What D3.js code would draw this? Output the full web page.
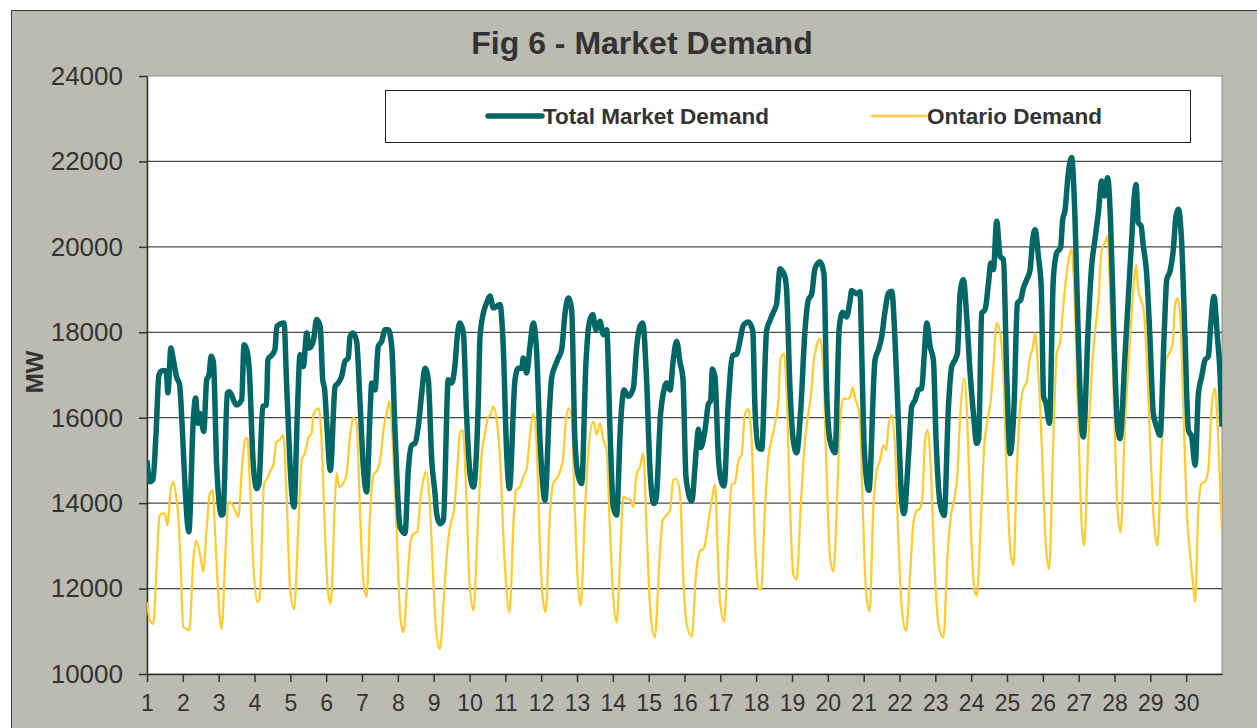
<!DOCTYPE html>
<html>
<head>
<meta charset="utf-8">
<script src="https://cdn.jsdelivr.net/npm/d3@7"></script>
<style>
  body { margin: 0; background: #fff; }
  svg { display: block; font-family: "Liberation Sans", Arial, sans-serif; }
  .axis text { fill: #333; }
  .axis path, .axis line { stroke: #333; }
</style>
</head>
<body>
<div id="chart"></div>
<script>
// hourly demand (MW), [hour of month, MW]
var totalDemand = [
  [0,15000],[2,14500],[4,14550],[6,15600],[8,17000],[10,17100],[12,17100],[13,17050],[14,16580],[16,17630],[17.6,17360],[20,16930],[21.7,16800],[24,15480],
  [25.5,14380],[28,13330],[31,15950],[32.6,16460],[34,15870],[35.5,16100],[38,15680],[40,16890],[41.5,17000],[43,17440],[44.5,17300],[46.7,14850],[50,13720],
  [51,13750],[53.8,16575],[55,16610],[60,16300],[63.4,16420],[65,17710],[66.8,17590],[68.5,17120],[71,15010],[73.5,14340],[75,14450],
  [77.5,16260],[80,16300],[81,17360],[84,17480],[85.7,17600],[87,18140],[91.8,18220],[93.5,16800],[97,14230],[98.5,13910],
  [100.7,16100],[102.5,17475],[104.7,17200],[107,17985],[108.7,17630],[111.4,17790],[113.6,18300],[116,18140],[117.7,16890],[119,16650],[120.5,15800],[122.8,14770],
  [126,16730],[128,16810],[130.4,16970],[132.6,17320],[134.8,17400],[136,17900],[138,17985],[140.4,17790],[142.7,16340],[144.9,14850],[147.1,14265],
  [149.4,16100],[150.5,16810],[152.7,16650],[154.9,17670],[157.2,17790],[159.4,18060],[161.6,18060],[163.9,17670],[166.1,15710],[169.5,13440],[172.8,13290],
  [175,14775],[177.3,15360],[179.5,15400],[181.7,15790],[184,16575],[186.2,17160],[188.4,16890],[190.7,15010],[192.9,14225],[194,13750],[196.2,13520],[198.5,13600],
  [201.8,16890],[204,16810],[206.3,17240],[207.8,17900],[209.6,18220],[211.9,17985],[214,16100],[216.3,14700],[218.6,14380],
  [222,16500],[223,17870],[225.3,18450],[227.5,18690],[229.7,18850],[232,18570],[236.4,18650],[238.6,17670],[240.9,15165],[242.7,14340],
  [246.5,16890],[248.7,17160],[251,17160],[252,17400],[254.3,17045],[256.5,17670],[258.7,18220],[261,17520],[263.2,15480],[265,14460],[266.5,14070],
  [269.4,16100],[271,16930],[273.2,17200],[275.5,17400],[277.7,17590],[280,18450],[282.2,18800],[284.4,18530],[286.6,15480],[288.9,14620],[291.1,14460],
  [294,17280],[296.2,18220],[298.5,18415],[300.7,18060],[303.4,18260],[305.6,17945],[307.9,18060],[310.1,15710],[312.3,13910],[314.5,13720],
  [317.2,15870],[319.5,16650],[322.4,16500],[325.7,16690],[328,17670],[330.2,18140],[332,18220],[334.6,16890],[336.9,14775],[339.5,13990],[341,14100],
  [344,16100],[345.8,16575],[348,16810],[350.3,16650],[352.5,17360],[354.7,17790],[357,17300],[359,16900],[361,14600],[364.8,14050],
  [368,15300],[369.3,15730],[370.8,15300],[373.7,15700],[376,16320],[377.5,16400],[378.7,17140],[380.4,16950],[382.7,15070],[384.9,14480],[386.5,14400],
  [389.4,16400],[392.3,17455],[395,17490],[397.2,17810],[399.4,18160],[402.8,18240],[405.7,18040],[407.2,16240],[409.5,15300],[411.7,15260],
  [415,18040],[417.3,18280],[419.5,18470],[421.7,18670],[424,19490],[425.1,19450],[427.3,19300],[428.4,18980],[430.7,16630],[432.9,15460],[435.1,15180],
  [437.8,16160],[440.7,18040],[442.9,18750],[445.2,18900],[447.4,19490],[450.8,19650],[453.4,19370],[455.2,16630],[457.5,15460],[460.8,15180],
  [463.7,18120],[466,18470],[468.6,18360],[470.9,18750],[472,18980],[475.3,18900],[477.6,18950],[478.7,17500],[480.5,15200],[483.5,14300],
  [487.6,17350],[489.9,17590],[492.1,17900],[494.3,18490],[496.6,18920],[498.8,18960],[501,17820],[503.3,15860],[505.5,14065],[507,13750],
  [510,15080],[512.2,16260],[514.4,16410],[516.7,16650],[518.9,16690],[520.5,17430],[522.3,18215],[524.5,17670],[526.7,17350],[528.5,15470],[531.2,13990],[533.9,13710],
  [536.8,16260],[539,17200],[541.2,17350],[542.8,17510],[544.6,18920],[546.8,19230],[549,18370],[551.3,17040],[553.5,16100],[555.7,15400],[557,15500],
  [559.1,18450],[561.3,18530],[563.6,19150],[565.1,19620],[566.9,19470],[569.1,20600],[571.4,19780],[573.6,19700],[575.8,17040],[578.1,15160],
  [580.7,16260],[583,18685],[585.2,18760],[587,19040],[589.2,19230],[591.5,19470],[593.2,20170],[594.8,20400],[597,19780],[599,19000],[600.5,16500],[602.1,16340],[604.4,15870],
  [607,19230],[609.3,19860],[611.9,19980],[613.3,20640],[614.8,20840],[617.1,21740],[619.3,22090],[621.5,20720],[623.8,17820],[626,15790],[627.1,15550],
  [630.5,18215],[632.7,19550],[634.9,20170],[637.2,20800],[639.4,21540],[641.2,21190],[643.4,21620],[645.4,20560],[647.7,17820],[649.9,15870],[651.7,15510],
  [655,17430],[657.3,18840],[659.5,20170],[661.1,21110],[662.4,21460],[664,20560],[665.8,20490],[667.3,20020],[669.5,19390],[671.8,17820],[674,16100],[676.2,15790],[678.5,15590],
  [681.2,17900],[683,19230],[685.2,19430],[687.4,19940],[689.2,20720],[690.8,20880],[693,20090],[695.2,17900],[697.5,15710],[699.7,15550],[702,14890],
  [704.2,16570],[706.4,16960],[708.6,17350],[710.8,17430],[712.4,18140],[714.6,18840],[716.9,17900],[718.7,17040],[720,15790]
];

var ontarioDemand = [
  [0,11680],[2,11250],[4.2,11170],[6.5,12580],[8.3,13680],[10.5,13760],[12,13760],[13.6,13480],[15.9,14300],[17.6,14500],[19.4,14190],[21,13680],[22.5,12580],[24.3,11100],[26.6,11055],[28.4,11020],
  [31,12660],[32.8,13130],[35,12900],[36.6,12580],[37.7,12390],[40,13440],[42.2,14230],[44,14300],[45.5,13370],[47.8,11800],[50,11055],
  [52.2,12580],[54.5,14030],[56.7,13990],[58.9,13835],[61.2,13680],[63.4,14700],[65.6,15480],[67.2,15520],[69,14380],[71.2,12580],[73.9,11680],[75.5,11800],
  [78.4,14460],[80.6,14580],[82.8,14775],[84.6,14890],[86.8,15440],[89,15480],[91.3,15600],[93.5,14150],[95.8,12030],[98.5,11520],
  [101.4,13440],[103.6,15010],[105.8,15170],[108,15520],[110.3,15640],[111.4,16070],[114.8,16220],[116,16000],[117.5,15000],[119.5,13000],[121,12000],[123,11640],
  [126,14150],[127,14700],[128.8,14380],[131.5,14460],[133.7,14700],[136,15560],[138.2,15990],[140.4,15870],[142.7,13760],[144.9,12190],[147.1,11800],
  [149.4,13760],[151.6,14660],[154.3,14775],[156.5,15090],[158.7,15790],[160.5,16100],[162.3,16380],[164.5,15480],[167.2,13370],[169.5,11410],[171.7,10980],
  [174.4,12190],[176.6,13130],[178.8,13290],[181,13325],[183.3,14150],[185.1,14540],[186.9,14735],[189.1,14150],[191.3,12580],[193.6,11015],[196.2,10585],
  [198.9,11800],[201.2,12970],[203.4,13520],[205.6,13835],[207.8,14775],[209.6,15640],[211.4,15710],[213.7,14380],[215.9,12190],[218.6,11490],
  [221.9,13760],[224.2,15170],[226.4,15640],[228.6,16030],[229.7,16050],[232,16260],[234.2,15950],[236.4,15100],[239.3,12800],[242.7,11450],
  [245.8,13760],[247.1,14300],[249.8,14380],[252,14620],[254.3,14810],[256.5,15560],[258.7,16100],[261,15320],[263.2,12970],[265,11800],[267,11450],
  [269.9,13760],[272.1,14460],[274.4,14580],[276.6,14735],[278.8,15090],[280.6,15950],[282.2,16220],[284.4,16030],[286.6,13760],[288.9,11950],[290.4,11600],
  [293.3,13760],[295.6,15240],[299,15910],[301.1,15600],[303.4,15870],[305.6,15480],[307.8,15240],[310.1,13370],[312.3,11800],[314.5,11210],
  [317.2,12970],[319,14150],[321.2,14110],[323.9,14070],[325.7,13910],[328,14700],[330.2,14850],[332.4,15170],[334.6,13370],[337.3,11410],[340.2,10860],
  [343.1,12580],[345.4,13600],[348,13720],[350.3,13835],[352.5,14540],[354.3,14560],[357,14220],[359.2,12260],[361.5,11150],[364.8,10880],
  [367.7,12330],[370.4,12875],[373.1,12950],[376,13580],[378.2,14050],[380.4,14440],[382,13110],[383.8,11700],[386.5,11230],
  [389.4,13110],[391.6,14440],[393.8,14480],[396.1,14990],[398.3,15150],[400.5,16085],[402.8,16200],[405,15460],[407.2,13110],[409.5,12010],[411.3,11970],
  [413.9,13890],[416.2,15070],[418.4,15500],[420.6,15850],[422.9,16400],[424.4,17380],[426.7,17500],[428.4,16630],[430.7,13890],[432.9,12330],[435.1,12210],
  [437.8,13890],[440.7,15460],[442.9,16085],[445.2,16710],[446.3,17220],[448.5,17690],[450.8,17850],[453,17180],[455.2,14680],[457.5,12720],[459.7,12400],
  [462.4,14280],[464.2,15930],[466.4,16440],[468.6,16440],[470.9,16480],[472.6,16710],[474.2,16480],[477.5,16000],[479.3,14000],[481.5,12000],[484,11470],
  [486.5,13910],[488.8,14770],[491,15000],[493.2,15360],[495,15240],[496.6,15790],[498.8,16060],[501,15320],[503.3,13130],[505.5,11560],[508.4,11010],
  [511.1,12340],[513.3,13520],[515.6,13830],[517.8,13870],[519.6,14300],[521.1,15470],[522.7,15710],[524.9,14850],[527.2,12730],[530.1,11170],[533.4,10855],
  [536.1,12730],[538.3,13670],[540.6,14065],[542.8,14690],[544.6,16020],[547.3,16920],[549.5,15870],[551.7,13520],[554,12030],[555.7,11830],
  [558.4,13520],[560.7,15320],[562.9,15940],[565.1,16410],[566.9,17200],[569.1,18215],[571.4,17980],[573.6,17040],[575.8,14690],[578.1,12970],[580.3,12540],
  [582.5,14690],[584.3,16020],[586.6,16650],[589.2,16840],[591.5,17430],[593.2,17630],[594.8,17980],[597,17040],[598.3,16200],[600,14690],[602,13000],[604.2,12460],
  [607,15470],[609.3,17510],[611.5,17750],[613.7,18610],[616,19390],[618.2,19860],[619.3,19940],[621.5,18610],[623.8,15870],[626,13520],[627.6,13010],
  [630.5,15470],[632.7,17040],[634.9,17980],[637.2,18760],[639.4,19940],[641.6,20090],[643.4,20250],[645.4,18610],[647.7,16260],[649.9,13910],[652.1,13320],
  [655,15870],[657.3,17200],[659.5,18450],[661.1,19230],[662.4,19580],[664,18960],[665.8,18760],[667.8,18450],[669.5,17430],[671.8,15470],[674.5,13520],[676.7,13010],
  [679.6,15320],[682.5,17350],[684.7,17510],[687,17750],[688.5,18610],[690.1,18800],[691.9,18450],[694.1,16260],[696.3,13910],[698.6,12810],[700.4,12180],[702,11680],
  [704.2,13910],[706.4,14460],[708.6,14500],[710.8,14770],[713.1,16260],[715.3,16690],[717.5,15470],[720,13320]
];

var dayLabels = ['1','2','3','4','5','6','7','8','9','10','11','12','13','14','15','16','17','18','19','20','21','22','23','24','25','26','27','28','29','30'];
var yTicks = [10000, 12000, 14000, 16000, 18000, 20000, 22000, 24000];
var seriesNames = ['Total Market Demand', 'Ontario Demand'];

var W = 1257, H = 728;
var plotLeft = 147, plotRight = 1222, plotTop = 76, plotBottom = 674;

var svg = d3.select('#chart').append('svg').attr('width', W).attr('height', H);

// grey chart frame
svg.append('rect')
    .attr('x', 11.5).attr('y', 10.5)
    .attr('width', W).attr('height', H)
    .attr('fill', '#bbbbb1')
    .attr('stroke', '#3c3c3c');

var x = d3.scaleLinear().domain([0, 720]).range([plotLeft, plotRight]);
var y = d3.scaleLinear().domain([10000, 24000]).range([plotBottom, plotTop]);

svg.append('rect')
    .attr('x', plotLeft).attr('y', plotTop)
    .attr('width', plotRight - plotLeft).attr('height', plotBottom - plotTop)
    .attr('fill', '#fff')
    .attr('stroke', '#8a8a8a');

// gridlines
svg.append('g')
    .selectAll('line')
    .data(yTicks.filter(v => v > 10000 && v < 24000))
    .enter().append('line')
    .attr('x1', plotLeft).attr('x2', plotRight)
    .attr('y1', d => y(d)).attr('y2', d => y(d))
    .attr('stroke', '#4a4a4a')
    .attr('stroke-width', 1.2);

svg.append('g')
    .attr('class', 'axis')
    .attr('transform', `translate(${plotLeft},0)`)
    .call(d3.axisLeft(y).tickValues(yTicks).tickFormat(d3.format('d')).tickSize(8).tickSizeOuter(0).tickPadding(16))
    .call(g => g.selectAll('text').style('font-size', '26px'))
    .call(g => g.selectAll('line,path').attr('stroke-width', 1.5));

svg.append('g')
    .attr('class', 'axis')
    .attr('transform', `translate(0,${plotBottom})`)
    .call(d3.axisBottom(x).tickValues(dayLabels.map((d, i) => i * 24)).tickFormat((d, i) => dayLabels[i]).tickSize(8).tickSizeOuter(0).tickPadding(13))
    .call(g => g.selectAll('text').style('font-size', '23px'))
    .call(g => g.selectAll('line,path').attr('stroke-width', 1.5));

svg.append('clipPath').attr('id', 'plot')
    .append('rect')
    .attr('x', plotLeft).attr('y', plotTop)
    .attr('width', plotRight - plotLeft).attr('height', plotBottom - plotTop);

var line = d3.line()
    .x(d => x(d[0]))
    .y(d => y(d[1]))
    .curve(d3.curveMonotoneX);

var lines = svg.append('g').attr('clip-path', 'url(#plot)');

lines.append('path')
    .datum(ontarioDemand)
    .attr('d', line)
    .attr('fill', 'none')
    .attr('stroke', '#ffcc33')
    .attr('stroke-width', 2.3)
    .attr('stroke-linejoin', 'round');

lines.append('path')
    .datum(totalDemand)
    .attr('d', line)
    .attr('fill', 'none')
    .attr('stroke', '#006666')
    .attr('stroke-width', 5.5)
    .attr('stroke-linejoin', 'round');

// legend
var legend = svg.append('g');
legend.append('rect')
    .attr('x', 385.5).attr('y', 90.5)
    .attr('width', 805).attr('height', 52)
    .attr('fill', '#fff')
    .attr('stroke', '#222');

var legendItems = [
    { name: seriesNames[0], color: '#006666', width: 5.5, x: 488 },
    { name: seriesNames[1], color: '#ffcc33', width: 2.5, x: 872 }
];

legendItems.forEach(function (d) {
    legend.append('line')
        .attr('x1', d.x).attr('x2', d.x + 54)
        .attr('y1', 116).attr('y2', 116)
        .attr('stroke', d.color)
        .attr('stroke-width', d.width)
        .attr('stroke-linecap', 'round');
    legend.append('text')
        .attr('x', d.x + 55)
        .attr('y', 124)
        .attr('fill', '#333')
        .style('font-size', '22.5px')
        .style('font-weight', 'bold')
        .text(d.name);
});

svg.append('text')
    .attr('x', 642)
    .attr('y', 54)
    .attr('text-anchor', 'middle')
    .attr('fill', '#333')
    .style('font-size', '32px')
    .style('font-weight', 'bold')
    .text('Fig 6 - Market Demand');

svg.append('text')
    .attr('transform', 'translate(43,372) rotate(-90)')
    .attr('text-anchor', 'middle')
    .attr('fill', '#333')
    .style('font-size', '24px')
    .style('font-weight', 'bold')
    .text('MW');
</script>
</body>
</html>
